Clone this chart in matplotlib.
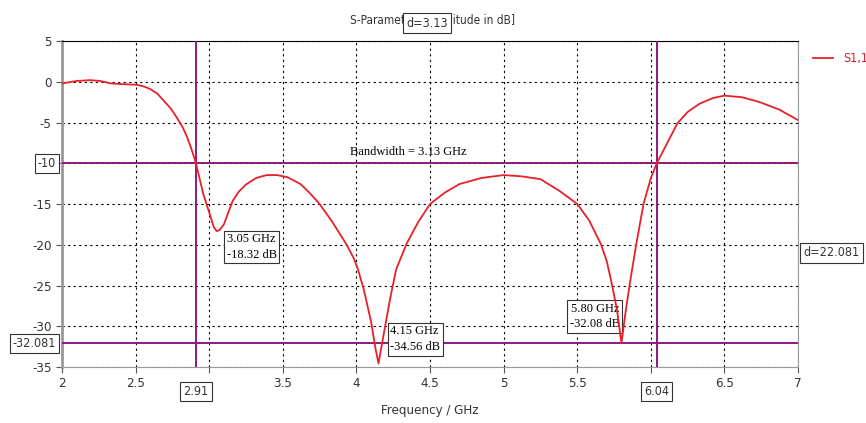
import numpy as np
import matplotlib.pyplot as plt

# S11 curve (GHz, dB)
freq = [2.0, 2.05, 2.1, 2.19, 2.26, 2.33, 2.42, 2.51, 2.56, 2.6, 2.65, 2.69, 2.74, 2.78, 2.82,
        2.85, 2.88, 2.91, 2.96, 3.01, 3.03, 3.05, 3.07, 3.1, 3.13, 3.16, 3.2, 3.25, 3.32,
        3.39, 3.46, 3.53, 3.62, 3.68, 3.75, 3.84, 3.93, 3.98, 4.01, 4.05, 4.1, 4.13, 4.15,
        4.17, 4.2, 4.23, 4.27, 4.34, 4.42, 4.5, 4.6, 4.7, 4.85, 5.0, 5.12, 5.25, 5.38,
        5.5, 5.58, 5.66, 5.7, 5.73, 5.77, 5.8, 5.83, 5.86, 5.9, 5.95, 6.0, 6.04, 6.1,
        6.18, 6.25, 6.33, 6.42, 6.5, 6.62, 6.74, 6.87, 7.0]
s11 = [-0.2, -0.05, 0.1, 0.2, 0.1, -0.2, -0.3, -0.37, -0.6, -0.9, -1.5, -2.3, -3.3, -4.4, -5.6,
       -6.8, -8.3, -10.0, -13.8, -16.6, -17.8, -18.32, -18.2, -17.5, -16.0, -14.6, -13.5, -12.6, -11.8,
       -11.45, -11.45, -11.7, -12.55, -13.6, -15.0, -17.3, -19.9, -21.6, -23.0, -25.5, -29.5, -32.8, -34.56,
       -32.5, -29.5, -26.5, -23.0, -19.9, -17.2, -15.0, -13.6, -12.55, -11.8, -11.45, -11.6, -11.95, -13.4,
       -15.0, -17.0, -19.9, -22.0, -24.4, -28.0, -32.08, -28.0, -24.4, -20.0, -15.0, -11.8, -10.0, -7.9,
       -5.1, -3.7, -2.7, -2.0, -1.7, -1.9, -2.5, -3.4, -4.7]

f_lo, f_hi = 2.91, 6.04
level_bw, level_min = -10, -32.081
markers = [(3.05, -18.32), (4.15, -34.56), (5.80, -32.08)]

purple = '#8c1a7e'
sans = ['DejaVu Sans']
fig = plt.figure(figsize=(8.66, 4.23), dpi=100)
ax = fig.add_axes([0.0716, 0.1324, 0.85, 0.7706])

ax.plot(freq, s11, color='#e8202a', lw=1.3, zorder=4, label='S1,1')
ax.axvline(f_lo, color=purple, lw=1.4, zorder=3)
ax.axvline(f_hi, color=purple, lw=1.4, zorder=3)
ax.axhline(level_bw, color=purple, lw=1.4, zorder=3)
ax.axhline(level_min, color=purple, lw=1.4, zorder=3)

ax.set_xlim(2, 7)
ax.set_ylim(-35, 5)
xt = np.arange(2, 7.01, 0.5)
ax.set_xticks(xt)
ax.set_xticklabels(['' if abs(v - 3) < 1e-6 or abs(v - 6) < 1e-6 else f'{v:g}' for v in xt])
yt = np.arange(-35, 5.01, 5)
ax.set_yticks(yt)
ax.set_yticklabels(['' if v == -10 else f'{v:g}' for v in yt])
ax.grid(True, color='black', ls=(0, (2, 3)), lw=0.8)
for s in ['left', 'bottom', 'right']:
    ax.spines[s].set_color('#999999')
ax.spines['left'].set_linewidth(2)
ax.spines['top'].set_color('black')
ax.tick_params(colors='#555555', labelcolor='#333333', labelsize=9.5, length=4)
for lab in ax.get_xticklabels() + ax.get_yticklabels():
    lab.set_family(sans)
    lab.set_fontstretch('condensed')

box = dict(boxstyle='square,pad=0.25', fc='white', ec='#333333', lw=0.8)
tr_y = ax.get_yaxis_transform()
tr_x = ax.get_xaxis_transform()
kw = dict(fontsize=9, family=sans, fontstretch='condensed', color='#333333', bbox=box)
ax.text(-0.008, level_bw, f'{level_bw}', transform=tr_y, ha='right', va='center', **kw)
ax.text(-0.008, level_min, f'{level_min}', transform=tr_y, ha='right', va='center', **kw)
ax.text(f_lo, -0.055, f'{f_lo}', transform=tr_x, ha='center', va='top', **kw)
ax.text(f_hi, -0.055, f'{f_hi}', transform=tr_x, ha='center', va='top', **kw)
ax.text(1.007, -21.0, f'd={level_bw - level_min:.3f}', transform=tr_y, ha='left', va='center', **kw)

ax.text(4.35, -8.6, f'Bandwidth = {f_hi - f_lo:.2f} GHz', ha='center', va='center', fontsize=9,
        family='Liberation Serif')

serif_box = dict(boxstyle='square,pad=0.2', fc='white', ec='#333333', lw=0.8)
ax.text(3.12, -18.6, f'{markers[0][0]:.2f} GHz\n{markers[0][1]:.2f} dB', ha='left', va='top',
        fontsize=9, family='Liberation Serif', bbox=serif_box, linespacing=1.4)
ax.text(4.23, -29.9, f'{markers[1][0]:.2f} GHz\n{markers[1][1]:.2f} dB', ha='left', va='top',
        fontsize=9, family='Liberation Serif', bbox=serif_box, linespacing=1.4)
ax.text(5.79, -27.1, f'{markers[2][0]:.2f} GHz\n{markers[2][1]:.2f} dB', ha='right', va='top',
        fontsize=9, family='Liberation Serif', bbox=serif_box, linespacing=1.4)

fig.text(0.5, 0.935, 'S-Parameter [Magnitude in dB]', ha='center', va='bottom', fontsize=8.5,
         family=sans, fontstretch='condensed', color='#333333')
fig.text(0.493, 0.93, f'd={f_hi - f_lo:.2f}', ha='center', va='bottom', zorder=5, **kw)

ax.set_xlabel('Frequency / GHz', fontsize=9.5, family=sans, fontstretch='condensed',
              color='#333333', labelpad=10)
ax.legend(loc='upper left', bbox_to_anchor=(1.005, 1.0), frameon=False, handlelength=1.6,
          prop={'family': sans, 'stretch': 'condensed', 'size': 9}, labelcolor='#d02030')

fig.savefig('out.png', dpi=100)
